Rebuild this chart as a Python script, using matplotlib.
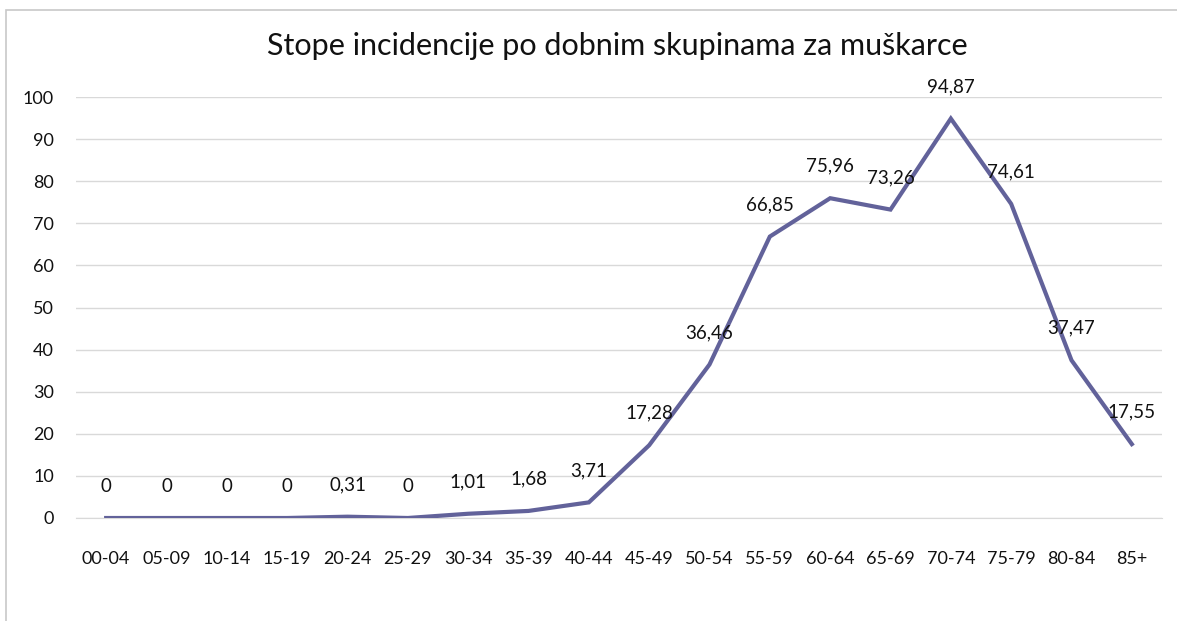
import matplotlib.pyplot as plt
from matplotlib.patches import Rectangle

plt.rcParams['font.family'] = ['Lato', 'DejaVu Sans']

groups = ['00-04', '05-09', '10-14', '15-19', '20-24', '25-29', '30-34', '35-39', '40-44',
          '45-49', '50-54', '55-59', '60-64', '65-69', '70-74', '75-79', '80-84', '85+']
rates = [0, 0, 0, 0, 0.31, 0, 1.01, 1.68, 3.71, 17.28, 36.46, 66.85, 75.96, 73.26,
         94.87, 74.61, 37.47, 17.55]
yticks = list(range(0, 101, 10))

fig = plt.figure(figsize=(11.77, 6.21), dpi=100)
# outer chart frame (Excel style), only left and top edges visible
fig.patches.append(Rectangle((6/1177, -0.2), 1.2, 1.2 - 10/621, transform=fig.transFigure,
                             fill=False, edgecolor='#c8c8c8', linewidth=1.2))

ax = fig.add_axes([76/1177, 1 - 518/621, 1086/1177, 421/621])
x = list(range(len(groups)))
ax.plot(x, rates, color='#62629a', linewidth=3, solid_joinstyle='miter', zorder=3)

for xi, v in zip(x, rates):
    lab = ('%.2f' % v).replace('.', ',') if v != 0 else '0'
    ax.annotate(lab, (xi, v), xytext=(0, 23), textcoords='offset points',
                ha='center', va='center', fontsize=13.5, color='#111111', zorder=4)

ax.set_xlim(-0.5, len(groups) - 0.5)
ax.set_ylim(0, 100)
ax.set_yticks(yticks)
ax.set_xticks(x)
ax.set_xticklabels(groups)
ax.grid(axis='y', color='#d9d9d9', linewidth=1)
ax.set_axisbelow(True)
for s in ['top', 'right', 'left']:
    ax.spines[s].set_visible(False)
ax.spines['bottom'].set_color('#d9d9d9')
ax.tick_params(length=0, labelsize=13, colors='#111111')
ax.tick_params(axis='x', pad=24)
ax.tick_params(axis='y', pad=16)

fig.text(617/1177, 1 - 46/621, 'Stope incidencije po dobnim skupinama za muškarce',
         ha='center', va='center', fontsize=22, color='#111111')

fig.savefig('out.png', dpi=100)
